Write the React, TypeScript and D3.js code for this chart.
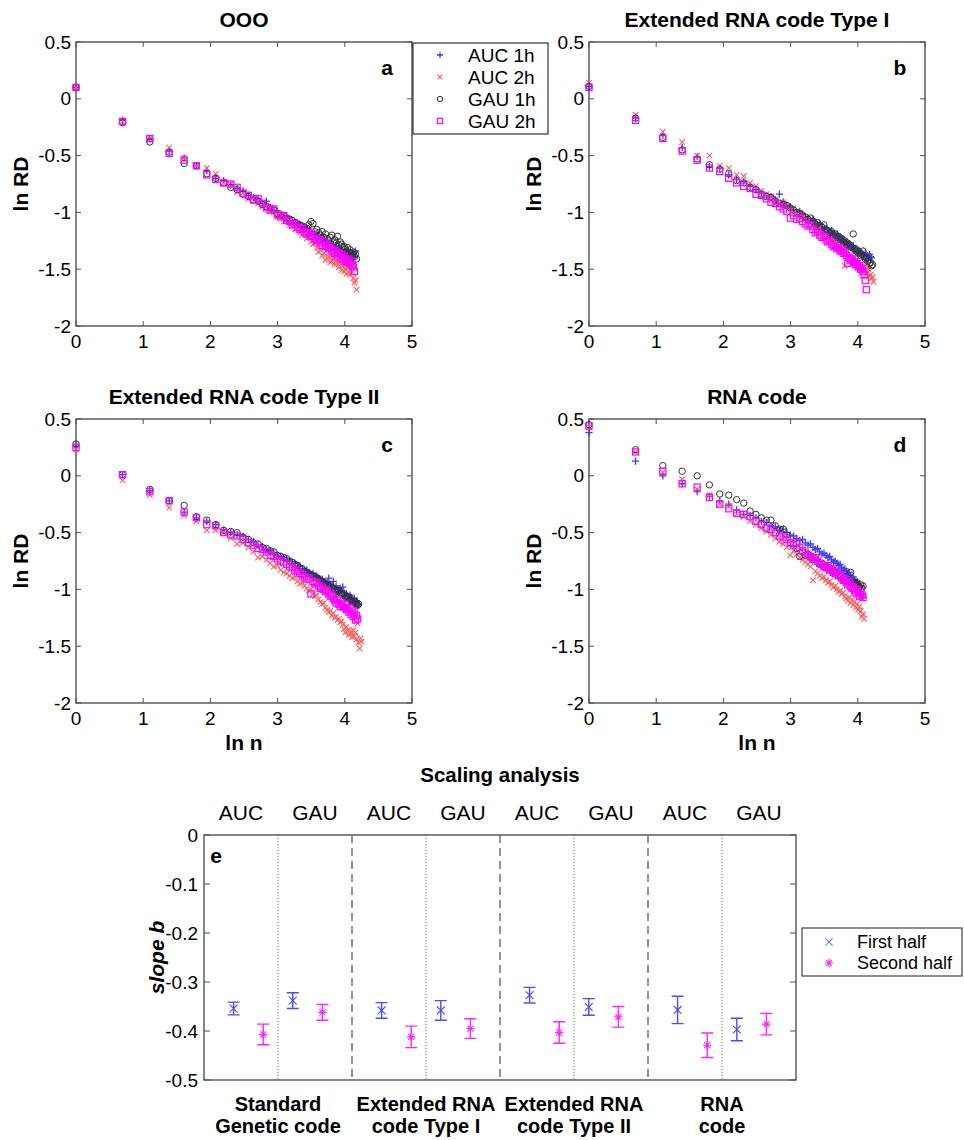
import React from "react";
import * as d3 from "d3";

const FONT = "'Liberation Sans', Arial, Helvetica, sans-serif";

// ln RD, one value per n = 1, 2, 3, ... (plotted at x = ln n)
const oooAuc1h = [0.10, -0.19, -0.35, -0.46, -0.52, -0.59, -0.63, -0.70, -0.72, -0.76,
  -0.79, -0.81, -0.85, -0.87, -0.88, -0.92, -0.90, -0.96, -0.98, -0.99,
  -1.02, -1.03, -1.04, -1.07, -1.08, -1.10, -1.09, -1.12, -1.13, -1.16,
  -1.14, -1.18, -1.17, -1.20, -1.19, -1.22, -1.21, -1.24, -1.26, -1.23,
  -1.27, -1.25, -1.29, -1.31, -1.28, -1.30, -1.33, -1.30, -1.34, -1.32,
  -1.35, -1.33, -1.37, -1.34, -1.38, -1.36, -1.39, -1.37, -1.40, -1.38,
  -1.41, -1.36, -1.39, -1.34];
const oooAuc2h = [0.10, -0.20, -0.35, -0.43, -0.52, -0.59, -0.61, -0.66, -0.74, -0.75,
  -0.82, -0.83, -0.88, -0.87, -0.92, -0.95, -0.94, -0.99, -1.00, -1.04,
  -1.03, -1.08, -1.07, -1.11, -1.12, -1.15, -1.14, -1.18, -1.20, -1.19,
  -1.23, -1.22, -1.26, -1.28, -1.27, -1.31, -1.35, -1.33, -1.38, -1.36,
  -1.42, -1.40, -1.39, -1.44, -1.42, -1.41, -1.46, -1.43, -1.45, -1.48,
  -1.44, -1.51, -1.47, -1.52, -1.50, -1.54, -1.49, -1.53, -1.55, -1.48,
  -1.52, -1.58, -1.62, -1.60, -1.68];
const oooGau1h = [0.10, -0.21, -0.38, -0.47, -0.57, -0.59, -0.66, -0.70, -0.74, -0.78,
  -0.80, -0.84, -0.86, -0.89, -0.90, -0.93, -0.95, -0.96, -0.98, -1.01,
  -1.02, -1.03, -1.05, -1.06, -1.07, -1.09, -1.10, -1.11, -1.12, -1.13,
  -1.14, -1.11, -1.08, -1.10, -1.17, -1.15, -1.18, -1.20, -1.17, -1.22,
  -1.19, -1.23, -1.25, -1.22, -1.20, -1.26, -1.24, -1.27, -1.21, -1.29,
  -1.26, -1.28, -1.31, -1.30, -1.32, -1.34, -1.31, -1.35, -1.33, -1.36,
  -1.38, -1.35, -1.39, -1.37, -1.41];
const oooGau2h = [0.10, -0.20, -0.35, -0.48, -0.54, -0.59, -0.67, -0.71, -0.74, -0.75,
  -0.78, -0.83, -0.85, -0.89, -0.88, -0.92, -0.96, -0.98, -0.97, -1.02,
  -1.04, -1.03, -1.07, -1.08, -1.11, -1.10, -1.13, -1.15, -1.14, -1.17,
  -1.19, -1.18, -1.21, -1.20, -1.23, -1.25, -1.24, -1.27, -1.29, -1.26,
  -1.30, -1.28, -1.32, -1.31, -1.34, -1.33, -1.36, -1.35, -1.38, -1.36,
  -1.40, -1.37, -1.41, -1.39, -1.43, -1.42, -1.44, -1.41, -1.45, -1.43,
  -1.46, -1.48, -1.52];

const ext1Auc1h = [0.11, -0.17, -0.32, -0.43, -0.51, -0.60, -0.61, -0.67, -0.71, -0.73,
  -0.77, -0.80, -0.83, -0.85, -0.86, -0.89, -0.84, -0.91, -0.94, -0.95,
  -0.98, -1.00, -0.99, -1.02, -1.04, -1.05, -1.07, -1.06, -1.09, -1.11,
  -1.10, -1.13, -1.15, -1.14, -1.17, -1.18, -1.16, -1.20, -1.21, -1.19,
  -1.23, -1.22, -1.25, -1.24, -1.27, -1.26, -1.29, -1.28, -1.30, -1.31,
  -1.29, -1.33, -1.32, -1.35, -1.34, -1.36, -1.35, -1.38, -1.37, -1.39,
  -1.36, -1.40, -1.38, -1.41, -1.37, -1.39, -1.40];
const ext1Auc2h = [0.14, -0.14, -0.29, -0.38, -0.50, -0.50, -0.59, -0.61, -0.67, -0.68,
  -0.74, -0.77, -0.81, -0.84, -0.86, -0.89, -0.92, -0.91, -0.95, -0.97,
  -0.96, -1.01, -1.03, -1.02, -1.06, -1.08, -1.07, -1.11, -1.13, -1.12,
  -1.16, -1.15, -1.19, -1.21, -1.20, -1.24, -1.23, -1.26, -1.28, -1.27,
  -1.31, -1.30, -1.34, -1.33, -1.47, -1.36, -1.38, -1.40, -1.37, -1.42,
  -1.41, -1.44, -1.43, -1.46, -1.45, -1.48, -1.47, -1.50, -1.49, -1.52,
  -1.51, -1.54, -1.53, -1.50, -1.56, -1.55, -1.58, -1.57, -1.61];
const ext1Gau1h = [0.11, -0.17, -0.34, -0.45, -0.53, -0.58, -0.62, -0.66, -0.72, -0.74,
  -0.78, -0.80, -0.84, -0.86, -0.87, -0.90, -0.92, -0.93, -0.94, -0.96,
  -0.98, -1.00, -1.01, -1.03, -1.04, -1.06, -1.05, -1.08, -1.10, -1.09,
  -1.12, -1.13, -1.11, -1.15, -1.16, -1.18, -1.17, -1.20, -1.19, -1.22,
  -1.21, -1.24, -1.23, -1.26, -1.25, -1.28, -1.27, -1.30, -1.29, -1.31,
  -1.19, -1.32, -1.34, -1.33, -1.36, -1.35, -1.38, -1.37, -1.34, -1.39,
  -1.41, -1.40, -1.43, -1.42, -1.45, -1.44, -1.47, -1.46];
const ext1Gau2h = [0.10, -0.19, -0.35, -0.46, -0.54, -0.61, -0.64, -0.70, -0.74, -0.77,
  -0.79, -0.84, -0.85, -0.88, -0.91, -0.92, -0.95, -0.97, -0.99, -1.05,
  -1.03, -1.06, -1.05, -1.08, -1.10, -1.12, -1.11, -1.15, -1.18, -1.17,
  -1.20, -1.22, -1.21, -1.24, -1.26, -1.25, -1.28, -1.30, -1.29, -1.32,
  -1.31, -1.34, -1.33, -1.36, -1.35, -1.38, -1.45, -1.40, -1.42, -1.41,
  -1.44, -1.43, -1.46, -1.45, -1.48, -1.47, -1.50, -1.49, -1.52, -1.55,
  -1.60, -1.68];

const ext2Auc1h = [0.26, 0.01, -0.13, -0.22, -0.32, -0.37, -0.40, -0.43, -0.48, -0.50,
  -0.52, -0.53, -0.56, -0.58, -0.61, -0.62, -0.65, -0.66, -0.68, -0.70,
  -0.71, -0.72, -0.74, -0.75, -0.78, -0.77, -0.80, -0.79, -0.82, -0.84,
  -0.83, -0.85, -0.87, -0.86, -0.89, -0.88, -0.90, -0.92, -0.91, -0.93,
  -0.95, -0.94, -0.90, -0.96, -0.98, -0.93, -0.99, -0.97, -1.00, -1.02,
  -0.99, -1.01, -0.98, -1.03, -1.05, -1.04, -1.06, -1.08, -1.05, -1.07,
  -1.09, -1.11, -1.08, -1.12, -1.10, -1.14, -1.13];
const ext2Auc2h = [0.23, -0.04, -0.17, -0.28, -0.35, -0.40, -0.48, -0.48, -0.50, -0.55,
  -0.60, -0.59, -0.63, -0.67, -0.72, -0.71, -0.74, -0.77, -0.80, -0.79,
  -0.83, -0.85, -0.86, -0.88, -0.90, -0.89, -0.93, -0.95, -0.94, -0.97,
  -0.99, -1.01, -1.00, -1.04, -1.06, -1.05, -1.09, -1.11, -1.13, -1.12,
  -1.16, -1.18, -1.20, -1.19, -1.23, -1.21, -1.25, -1.24, -1.27, -1.26,
  -1.29, -1.28, -1.31, -1.35, -1.38, -1.33, -1.36, -1.40, -1.37, -1.39,
  -1.42, -1.36, -1.41, -1.38, -1.44, -1.30, -1.47, -1.52, -1.43, -1.46];
const ext2Gau1h = [0.28, 0.01, -0.12, -0.22, -0.26, -0.36, -0.39, -0.43, -0.48, -0.49,
  -0.50, -0.54, -0.56, -0.59, -0.60, -0.63, -0.64, -0.66, -0.67, -0.70,
  -0.71, -0.72, -0.73, -0.75, -0.76, -0.78, -0.79, -0.81, -0.82, -0.84,
  -0.85, -0.86, -0.87, -0.88, -0.89, -0.90, -0.91, -0.92, -0.93, -0.94,
  -0.95, -0.96, -0.97, -0.96, -0.98, -0.99, -1.00, -1.01, -1.02, -1.01,
  -1.03, -1.04, -1.05, -1.04, -1.06, -1.07, -1.08, -1.07, -1.09, -1.10,
  -1.11, -1.10, -1.12, -1.11, -1.13, -1.14, -1.13];
const ext2Gau2h = [0.25, 0.01, -0.14, -0.22, -0.32, -0.37, -0.43, -0.44, -0.50, -0.52,
  -0.53, -0.56, -0.59, -0.61, -0.64, -0.65, -0.67, -0.70, -0.71, -0.73,
  -0.75, -0.76, -0.78, -0.80, -0.81, -0.83, -0.84, -0.86, -0.87, -0.89,
  -0.91, -0.90, -1.04, -0.93, -0.95, -0.94, -0.97, -0.99, -0.98, -1.00,
  -1.02, -1.01, -1.04, -1.06, -1.05, -1.08, -1.10, -1.12, -1.09, -1.13,
  -1.15, -1.12, -1.14, -1.16, -1.13, -1.18, -1.17, -1.20, -1.16, -1.22,
  -1.19, -1.24, -1.21, -1.27, -1.23, -1.26];

const rnaAuc1h = [0.38, 0.13, 0.00, -0.07, -0.14, -0.18, -0.22, -0.25, -0.30, -0.34,
  -0.35, -0.37, -0.40, -0.41, -0.44, -0.45, -0.48, -0.47, -0.50, -0.52,
  -0.53, -0.55, -0.57, -0.56, -0.59, -0.61, -0.60, -0.63, -0.65, -0.64,
  -0.67, -0.69, -0.68, -0.70, -0.72, -0.71, -0.74, -0.76, -0.75, -0.77,
  -0.79, -0.78, -0.81, -0.83, -0.82, -0.84, -0.86, -0.85, -0.88, -0.90,
  -0.89, -0.92, -0.94, -0.93, -0.96, -0.98, -1.02, -1.05, -1.07];
const rnaAuc2h = [0.43, 0.21, 0.03, -0.03, -0.12, -0.17, -0.25, -0.27, -0.34, -0.36,
  -0.40, -0.43, -0.46, -0.49, -0.52, -0.55, -0.58, -0.60, -0.63, -0.70,
  -0.66, -0.69, -0.72, -0.74, -0.76, -0.78, -0.80, -0.92, -0.84, -0.86,
  -0.88, -0.90, -0.89, -0.92, -0.94, -0.93, -0.96, -0.98, -0.97, -1.00,
  -1.02, -1.01, -1.04, -1.03, -1.06, -1.08, -1.10, -1.07, -1.12, -1.09,
  -1.14, -1.11, -1.16, -1.13, -1.18, -1.15, -1.19, -1.24, -1.22, -1.26];
const rnaGau1h = [0.45, 0.23, 0.09, 0.04, 0.00, -0.08, -0.16, -0.17, -0.21, -0.24,
  -0.31, -0.34, -0.37, -0.39, -0.39, -0.44, -0.47, -0.47, -0.52, -0.59,
  -0.60, -0.64, -0.71, -0.67, -0.70, -0.69, -0.72, -0.74, -0.73, -0.76,
  -0.78, -0.77, -0.80, -0.79, -0.82, -0.81, -0.84, -0.83, -0.86, -0.85,
  -0.87, -0.89, -0.88, -0.90, -0.89, -0.91, -0.93, -0.92, -0.85, -0.94,
  -0.93, -0.95, -0.96, -0.94, -0.97, -0.98, -0.96, -0.99, -0.97];
const rnaGau2h = [0.44, 0.21, 0.04, -0.07, -0.10, -0.19, -0.25, -0.29, -0.33, -0.34,
  -0.36, -0.40, -0.43, -0.46, -0.47, -0.50, -0.53, -0.54, -0.56, -0.59,
  -0.61, -0.59, -0.63, -0.66, -0.68, -0.70, -0.71, -0.73, -0.72, -0.75,
  -0.77, -0.78, -0.80, -0.81, -0.79, -0.83, -0.82, -0.85, -0.86, -0.84,
  -0.88, -0.87, -0.90, -0.92, -0.91, -0.94, -0.96, -0.93, -0.97, -0.99,
  -0.98, -1.01, -1.03, -1.00, -1.04, -1.06, -1.02, -1.05, -1.07];

const seriesNames = ["AUC 1h", "AUC 2h", "GAU 1h", "GAU 2h"];
const seriesColors = ["#3c3cff", "#ff5c5c", "#333333", "#ff00ff"];
const seriesSymbols = ["plus", "cross", "circle", "square"];

const lnTicks = [0, 1, 2, 3, 4, 5];
const rdTicks = [0.5, 0, -0.5, -1, -1.5, -2];

// scaling analysis (panel e): slope b per code, AUC then GAU
const codeLabels = [["Standard", "Genetic code"], ["Extended RNA", "code Type I"], ["Extended RNA", "code Type II"], ["RNA", "code"]];
const setLabels = ["AUC", "GAU"];
const firstHalf = [-0.354, -0.338, -0.358, -0.358, -0.327, -0.351, -0.357, -0.397];
const firstHalfErr = [0.013, 0.016, 0.016, 0.020, 0.016, 0.017, 0.028, 0.023];
const secondHalf = [-0.407, -0.362, -0.412, -0.395, -0.403, -0.371, -0.429, -0.386];
const secondHalfErr = [0.021, 0.016, 0.022, 0.020, 0.022, 0.021, 0.025, 0.022];
const slopeTicks = [0, -0.1, -0.2, -0.3, -0.4, -0.5];

const AXIS = "#505050";

function Marker({ kind, x, y, color, s = 1 }: { kind: string; x: number; y: number; color: string; s?: number }) {
  if (kind === "plus") {
    const r = 3.6 * s;
    return <path d={`M${x - r},${y}H${x + r}M${x},${y - r}V${y + r}`} stroke={color} strokeWidth={1.3} fill="none" />;
  }
  if (kind === "cross") {
    const r = 2.8 * s;
    return <path d={`M${x - r},${y - r}L${x + r},${y + r}M${x - r},${y + r}L${x + r},${y - r}`} stroke={color} strokeWidth={1.1} fill="none" />;
  }
  if (kind === "circle") {
    return <circle cx={x} cy={y} r={3.2 * s} stroke={color} strokeWidth={1} fill="none" />;
  }
  if (kind === "square") {
    const r = 3.1 * s;
    return <rect x={x - r} y={y - r} width={2 * r} height={2 * r} stroke={color} strokeWidth={1.2} fill="none" />;
  }
  if (kind === "star") {
    const r = 4.2 * s;
    const d = r * 0.72;
    return (
      <path
        d={`M${x - r},${y}H${x + r}M${x},${y - r}V${y + r}M${x - d},${y - d}L${x + d},${y + d}M${x - d},${y + d}L${x + d},${y - d}`}
        stroke={color}
        strokeWidth={1.1}
        fill="none"
      />
    );
  }
  return null;
}

type PanelProps = {
  title: string;
  letter: string;
  data: number[][];
  left: number;
  top: number;
  xLabel: boolean;
  legend: boolean;
};

function ScatterPanel({ title, letter, data, left, top, xLabel, legend }: PanelProps) {
  const w = 336;
  const h = 284;
  const x = d3.scaleLinear().domain([0, 5]).range([left, left + w]);
  const y = d3.scaleLinear().domain([-2, 0.5]).range([top + h, top]);
  const tl = 5;
  return (
    <g>
      <text x={left + w / 2} y={top - 15} textAnchor="middle" fontSize={21} fontWeight="bold" fontFamily={FONT}>
        {title}
      </text>
      <rect x={left} y={top} width={w} height={h} fill="white" stroke={AXIS} strokeWidth={1.4} />
      {lnTicks.map((t) => (
        <g key={"x" + t}>
          <line x1={x(t)} x2={x(t)} y1={top + h} y2={top + h - tl} stroke={AXIS} />
          <line x1={x(t)} x2={x(t)} y1={top} y2={top + tl} stroke={AXIS} />
          <text x={x(t)} y={top + h + 22} textAnchor="middle" fontSize={19} fontFamily={FONT}>
            {t}
          </text>
        </g>
      ))}
      {rdTicks.map((t) => (
        <g key={"y" + t}>
          <line x1={left} x2={left + tl} y1={y(t)} y2={y(t)} stroke={AXIS} />
          <line x1={left + w} x2={left + w - tl} y1={y(t)} y2={y(t)} stroke={AXIS} />
          <text x={left - 5} y={y(t)} dy="0.35em" textAnchor="end" fontSize={19} fontFamily={FONT}>
            {t}
          </text>
        </g>
      ))}
      <text
        transform={`translate(${left - 55},${top + h / 2}) rotate(-90)`}
        textAnchor="middle"
        dy="0.35em"
        fontSize={21}
        fontWeight="bold"
        fontFamily={FONT}
      >
        ln RD
      </text>
      {xLabel && (
        <text x={left + w / 2} y={top + h + 47} textAnchor="middle" fontSize={21} fontWeight="bold" fontFamily={FONT}>
          ln n
        </text>
      )}
      <text x={left + w - 25} y={top + 33} textAnchor="middle" fontSize={21} fontWeight="bold" fontFamily={FONT}>
        {letter}
      </text>
      {data.map((vals, si) => (
        <g key={"s" + si}>
          {vals.map((v, i) => (
            <Marker key={i} kind={seriesSymbols[si]} x={x(Math.log(i + 1))} y={y(v)} color={seriesColors[si]} />
          ))}
        </g>
      ))}
      {legend && (
        <g>
          <rect x={left + w + 1} y={top + 1} width={135} height={91} fill="white" stroke="#333" strokeWidth={1.2} />
          {seriesNames.map((name, i) => (
            <g key={name}>
              <Marker kind={seriesSymbols[i]} x={left + w + 28} y={top + 13 + i * 22} color={seriesColors[i]} s={0.85} />
              <text x={left + w + 56} y={top + 13 + i * 22} dy="0.35em" fontSize={19} fontFamily={FONT}>
                {name}
              </text>
            </g>
          ))}
        </g>
      )}
    </g>
  );
}

function ScalingPanel() {
  const left = 204;
  const right = 796;
  const top = 835;
  const bottom = 1080;
  const x = d3.scaleLinear().domain([0, 20]).range([left, right]);
  const y = d3.scaleLinear().domain([-0.5, 0]).range([bottom, top]);
  const blue = "#4a4aff";
  const magenta = "#ff22ff";
  const groups = d3.range(8);
  const capW = 6;
  return (
    <g>
      <text x={(left + right) / 2} y={782} textAnchor="middle" fontSize={20.5} fontWeight="bold" fontFamily={FONT}>
        Scaling analysis
      </text>
      {groups.map((g) => (
        <text key={"set" + g} x={x(Math.floor(g / 2) * 5 + (g % 2) * 2.5 + 1.25)} y={820} textAnchor="middle" fontSize={21} fontFamily={FONT}>
          {setLabels[g % 2]}
        </text>
      ))}
      <rect x={left} y={top} width={right - left} height={bottom - top} fill="white" stroke={AXIS} strokeWidth={1.4} />
      {codeLabels.map((lab, i) => (
        <g key={"code" + i}>
          <line x1={x(i * 5 + 2.5)} x2={x(i * 5 + 2.5)} y1={top} y2={bottom} stroke="#777" strokeWidth={1} strokeDasharray="1.3,1.7" />
          {i > 0 && <line x1={x(i * 5)} x2={x(i * 5)} y1={top} y2={bottom} stroke="#666" strokeWidth={1.4} strokeDasharray="8,5" />}
          {lab.map((line, k) => (
            <text key={k} x={x(i * 5 + 2.5)} y={1111 + k * 22} textAnchor="middle" fontSize={20} fontWeight="bold" fontFamily={FONT}>
              {line}
            </text>
          ))}
        </g>
      ))}
      {slopeTicks.map((t) => (
        <g key={"t" + t}>
          <line x1={left} x2={left + 6} y1={y(t)} y2={y(t)} stroke={AXIS} />
          <line x1={right} x2={right - 6} y1={y(t)} y2={y(t)} stroke={AXIS} />
          <text x={left - 6} y={y(t)} dy="0.35em" textAnchor="end" fontSize={19} fontFamily={FONT}>
            {t}
          </text>
        </g>
      ))}
      <text x={left + 12} y={top + 28} textAnchor="middle" fontSize={21} fontWeight="bold" fontFamily={FONT}>
        e
      </text>
      <text
        transform={`translate(157,${(top + bottom) / 2}) rotate(-90)`}
        textAnchor="middle"
        dy="0.35em"
        fontSize={21}
        fontWeight="bold"
        fontStyle="italic"
        fontFamily={FONT}
      >
        slope b
      </text>
      {groups.map((g) => {
        const base = Math.floor(g / 2) * 5 + (g % 2) * 2;
        const bx = x(base + 1);
        const mx = x(base + 2);
        const b0 = y(firstHalf[g] + firstHalfErr[g]);
        const b1 = y(firstHalf[g] - firstHalfErr[g]);
        const m0 = y(secondHalf[g] + secondHalfErr[g]);
        const m1 = y(secondHalf[g] - secondHalfErr[g]);
        return (
          <g key={"eb" + g}>
            <path d={`M${bx},${b0}V${b1}M${bx - capW},${b0}H${bx + capW}M${bx - capW},${b1}H${bx + capW}`} stroke={blue} strokeWidth={1.4} fill="none" />
            <Marker kind="cross" x={bx} y={y(firstHalf[g])} color={blue} s={1.4} />
            <path d={`M${mx},${m0}V${m1}M${mx - capW},${m0}H${mx + capW}M${mx - capW},${m1}H${mx + capW}`} stroke={magenta} strokeWidth={1.4} fill="none" />
            <Marker kind="star" x={mx} y={y(secondHalf[g])} color={magenta} />
          </g>
        );
      })}
      <g>
        <rect x={802} y={928} width={160} height={48} fill="white" stroke="#444" strokeWidth={1.2} />
        <Marker kind="cross" x={829} y={942} color="#7070ff" s={1.3} />
        <text x={857} y={942} dy="0.35em" fontSize={18} fontFamily={FONT}>
          First half
        </text>
        <Marker kind="star" x={829} y={963} color={magenta} />
        <text x={857} y={963} dy="0.35em" fontSize={18} fontFamily={FONT}>
          Second half
        </text>
      </g>
    </g>
  );
}

const panels = [
  { title: "OOO", letter: "a", data: [oooAuc1h, oooAuc2h, oooGau1h, oooGau2h], left: 76, top: 42, xLabel: false, legend: true },
  { title: "Extended RNA code Type I", letter: "b", data: [ext1Auc1h, ext1Auc2h, ext1Gau1h, ext1Gau2h], left: 589, top: 42, xLabel: false, legend: false },
  { title: "Extended RNA code Type II", letter: "c", data: [ext2Auc1h, ext2Auc2h, ext2Gau1h, ext2Gau2h], left: 76, top: 419, xLabel: true, legend: false },
  { title: "RNA code", letter: "d", data: [rnaAuc1h, rnaAuc2h, rnaGau1h, rnaGau2h], left: 589, top: 419, xLabel: true, legend: false },
];

export default function App() {
  return (
    <svg width={964} height={1140} style={{ position: "absolute", left: 0, top: 0, background: "white" }}>
      <rect width={964} height={1140} fill="white" />
      {panels.map((p) => (
        <ScatterPanel key={p.letter} {...p} />
      ))}
      <ScalingPanel />
    </svg>
  );
}
